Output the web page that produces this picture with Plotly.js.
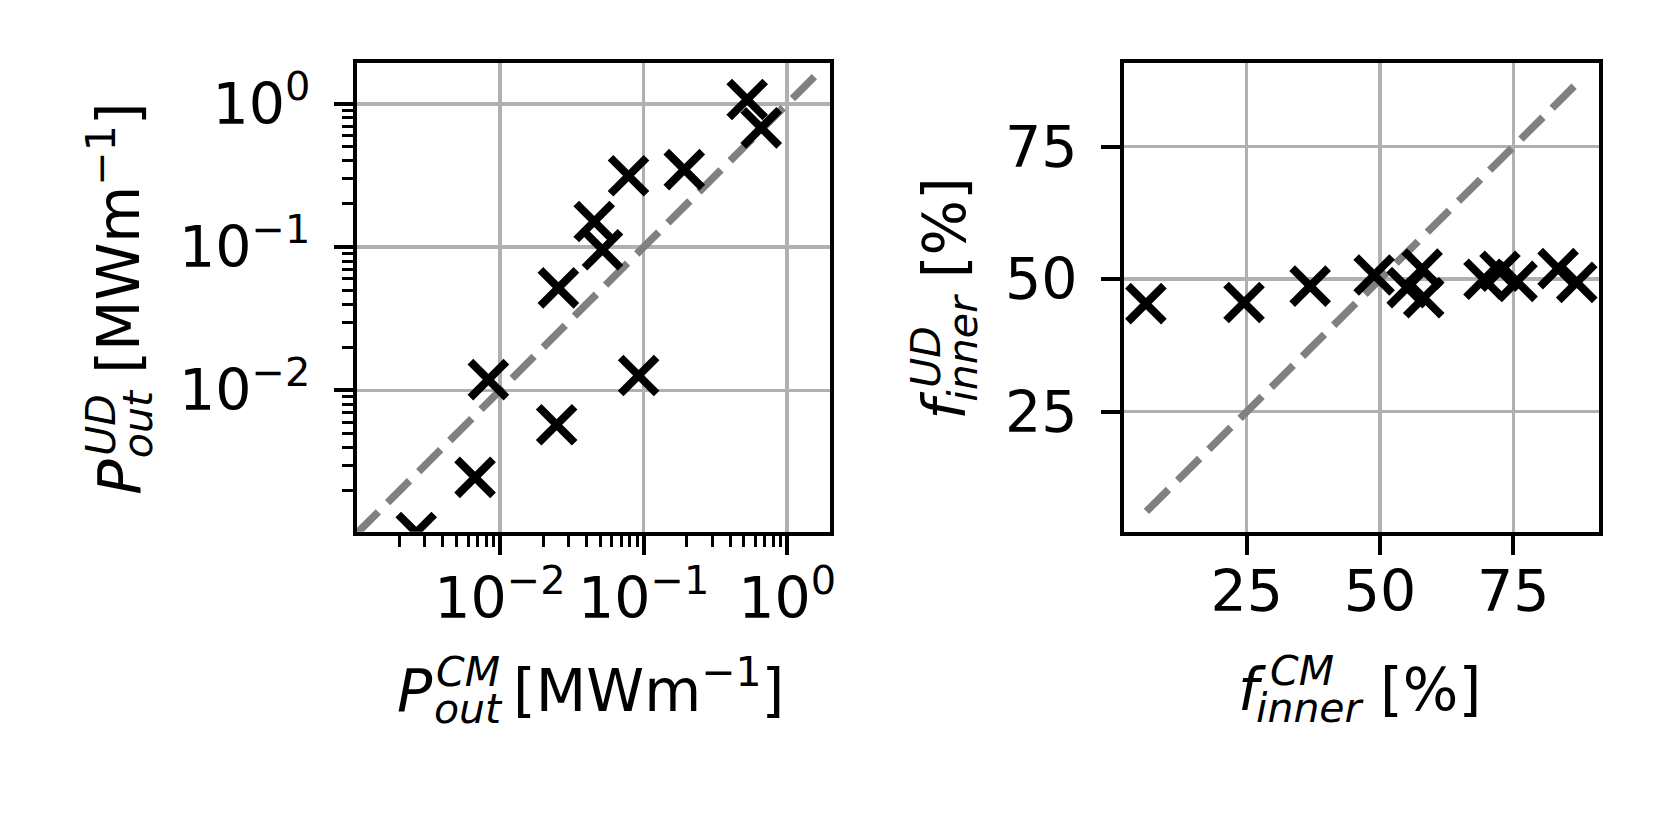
<!DOCTYPE html>
<html>
<head>
<meta charset="utf-8">
<script src="https://cdn.plot.ly/plotly-3.0.1.min.js"></script>
<style>
  html, body { margin: 0; padding: 0; background: #fff; }
  #plot { width: 1661px; height: 830px; }
</style>
</head>
<body>
<div id="plot"></div>
<script>
// left panel: outer power, CM vs UD [MW/m]
var pOutCM = [0.5265, 0.659, 0.192, 0.0785, 0.0453, 0.0517, 0.0255, 0.0083, 0.0923, 0.0248, 0.0067, 0.00261];
var pOutUD = [1.072, 0.680, 0.347, 0.315, 0.151, 0.0958, 0.0519, 0.0119, 0.0127, 0.00576, 0.00247, 0.00102];
var pOutDiag = [0.001, 1.77];

// right panel: inner fraction CM vs UD [%]
var fInnerCM = [6.1, 24.5, 36.9, 48.9, 55.1, 57.9, 58.2, 69.5, 72.5, 75.7, 83.4, 86.9];
var fInnerUD = [45.4, 45.6, 48.7, 50.8, 48.4, 51.9, 46.5, 50.0, 51.5, 49.6, 52.0, 49.4];
var fInnerDiag = [6.2, 87.0];

var logTickVals = [0.01, 0.1, 1];
var logTickText = ["10<sup>\u22122</sup>", "10<sup>\u22121</sup>", "10<sup>0</sup>"];
var linTickVals = [25, 50, 75];

var W = 1661, H = 830;
var FONT = "DejaVu Sans";
var FS = 57;                    // tick labels
var FT = 58.5, FT_SMALL = 41;   // axis titles and their scripts

function px(x) { return x / W; }
function py(y) { return 1 - y / H; }

var crossMarker = {
  symbol: "x-thin", size: 36, color: "black",
  line: { color: "black", width: 8 }
};
var diagLine = { color: "gray", width: 7.5, dash: "31px,13px" };

var traces = [
  { x: pOutDiag, y: pOutDiag, mode: "lines", type: "scatter", line: diagLine, xaxis: "x", yaxis: "y", hoverinfo: "skip" },
  { x: pOutCM, y: pOutUD, mode: "markers", type: "scatter", marker: crossMarker, xaxis: "x", yaxis: "y" },
  { x: fInnerDiag, y: fInnerDiag, mode: "lines", type: "scatter", line: diagLine, xaxis: "x2", yaxis: "y2", hoverinfo: "skip" },
  { x: fInnerCM, y: fInnerUD, mode: "markers", type: "scatter", marker: crossMarker, xaxis: "x2", yaxis: "y2" }
];

function frame(extra) {
  return Object.assign({
    showline: true, mirror: true, linecolor: "black", linewidth: 4,
    ticks: "outside", ticklen: 19, tickwidth: 4, tickcolor: "black",
    showgrid: true, gridcolor: "#b0b0b0", gridwidth: 3.5,
    zeroline: false, automargin: false, fixedrange: true,
    tickfont: { family: FONT, size: FS, color: "black" },
    ticklabelstandoff: 12
  }, extra);
}

var logMinor = { ticks: "outside", ticklen: 11, tickwidth: 3, tickcolor: "black", dtick: "D1", showgrid: false };
var yDomain = [py(531.7), py(62.7)];

// title pieces: base letter, superscript, subscript, unit (matplotlib stacks sub/sup)
var dBase = 0.236 * FT, dSmall = 0.236 * FT_SMALL;
function piece(text, size, x, y, xa, ya, angle) {
  return {
    xref: "paper", yref: "paper", x: x, y: y, xanchor: xa, yanchor: ya,
    text: text, showarrow: false, textangle: angle || 0,
    borderpad: 0, borderwidth: 0,
    font: { family: FONT, size: size, color: "black" }
  };
}
function xTitle(base, sup, sub, unit, p) {
  return [
    piece("<i>" + base + "</i>", FT, px(p.base), py(p.line + dBase), "left", "bottom"),
    piece("<i>" + sup + "</i>", FT_SMALL, px(p.sup), py(p.line - 25 + dSmall), "left", "bottom"),
    piece("<i>" + sub + "</i>", FT_SMALL, px(p.sub), py(p.line + 12 + dSmall), "left", "bottom"),
    piece(unit, FT, px(p.unit), py(p.line + dBase), "left", "bottom")
  ];
}
function yTitle(base, sup, sub, unit, p) {
  return [
    piece("<i>" + base + "</i>", FT, px(p.line + dBase), py(p.base), "right", "bottom", -90),
    piece("<i>" + sup + "</i>", FT_SMALL, px(p.line - 25 + dSmall), py(p.sup), "right", "bottom", -90),
    piece("<i>" + sub + "</i>", FT_SMALL, px(p.line + 12 + dSmall), py(p.sub), "right", "bottom", -90),
    piece(unit, FT, px(p.line + dBase), py(p.unit), "right", "bottom", -90)
  ];
}

var annotations = [].concat(
  xTitle("P", "CM", "out", "[MWm<sup>\u22121</sup>]", { base: 397, sup: 436, sub: 434, unit: 513, line: 711 }),
  yTitle("P", "UD", "out", "[MWm<sup>\u22121</sup>]", { base: 495, sup: 456, sub: 458, unit: 374, line: 140 }),
  xTitle("f", "CM", "inner", "[%]", { base: 1238, sup: 1270, sub: 1256, unit: 1380, line: 710 }),
  yTitle("f", "UD", "inner", "[%]", { base: 420, sup: 388, sub: 402, unit: 278, line: 965 })
);

var layout = {
  width: W, height: H,
  margin: { l: 0, r: 0, t: 0, b: 0 },
  paper_bgcolor: "white", plot_bgcolor: "white",
  showlegend: false,
  xaxis: frame({
    type: "log", domain: [px(356.7), px(830)], range: [-2.998, 0.298],
    tickmode: "array", tickvals: logTickVals, ticktext: logTickText, minor: logMinor, anchor: "y",
    ticklabelstandoff: -5
  }),
  yaxis: frame({
    type: "log", domain: yDomain, range: [-2.986, 0.287],
    tickmode: "array", tickvals: logTickVals, ticktext: logTickText, minor: logMinor, anchor: "x"
  }),
  xaxis2: frame({
    domain: [px(1124), px(1599)], range: [1.99, 91.07],
    tickmode: "array", tickvals: linTickVals, anchor: "y2",
    ticklabelstandoff: -12
  }),
  yaxis2: frame({
    domain: yDomain, range: [2.36, 90.85],
    tickmode: "array", tickvals: linTickVals, anchor: "x2"
  }),
  annotations: annotations
};

Plotly.newPlot("plot", traces, layout, { staticPlot: true, displayModeBar: false });
</script>
</body>
</html>
